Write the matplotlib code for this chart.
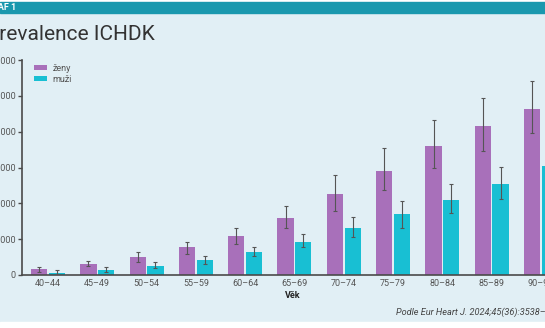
import numpy as np
import matplotlib
matplotlib.use("Agg")
import matplotlib.pyplot as plt
from matplotlib.patches import Rectangle

# data (per 100 000)
vek = ["40–44", "45–49", "50–54", "55–59", "60–64", "65–69",
       "70–74", "75–79", "80–84", "85–89", "90–94"]
zeny = [790, 1530, 2460, 3850, 5460, 8010, 11350, 14540, 18010, 20790, 23190]
zeny_lo = [420, 1250, 1850, 2920, 4260, 6490, 8890, 11810, 14960, 17360, 19760]
zeny_hi = [1110, 1900, 3240, 4580, 6490, 9680, 13890, 17740, 21630, 24680, 27040]
muzi = [320, 740, 1290, 2080, 3240, 4630, 6490, 8470, 10510, 12680, 15180]
muzi_lo = [100, 420, 970, 1530, 2600, 3930, 5280, 6530, 8710, 10650, 12800]
muzi_hi = [690, 1110, 1810, 2640, 3930, 5740, 8060, 10280, 12740, 15040, 17600]
yticks = [0, 5000, 10000, 15000, 20000, 25000, 30000]

plt.rcParams['font.family'] = ['Roboto', 'DejaVu Sans']

W, H = 545, 328
bg = "#e1eff5"
purple = "#a870ba"
cyan = "#18bfd3"
dark = "#4a4a4a"

fig = plt.figure(figsize=(W / 100, H / 100), dpi=100, facecolor=bg)

# top band and white bottom strip
fig.patches.append(Rectangle((0, 1 - 2 / H), 1, 2 / H, transform=fig.transFigure,
                             color="white", zorder=0))
fig.patches.append(Rectangle((0, 1 - 13 / H), 1, 11 / H, transform=fig.transFigure,
                             color="#1a98ae", zorder=0))
fig.patches.append(Rectangle((0, 0), 1, 6 / H, transform=fig.transFigure,
                             color="white", zorder=0))

fig.text(16 / W, 1 - 8 / H, "GRAF 1", ha="right", va="center", color="white",
         fontsize=6.5, fontweight="bold")
fig.text(155 / W, 1 - 40.5 / H, "Prevalence ICHDK", ha="right", va="baseline",
         color="#333333", fontsize=15)

# axes placed in pixels; the right side runs past the figure edge
a, b = -0.527, 10.6
px_per_unit = 49.3
ax_w = px_per_unit * (b - a)
ax = fig.add_axes([22 / W, (H - 275) / H, ax_w / W, 215 / H])
ax.set_facecolor("none")

x = np.arange(len(vek))
off, bw = 0.18, 0.33
ax.bar(x - off, zeny, bw, color=purple, label="ženy", zorder=2)
ax.bar(x + off, muzi, bw, color=cyan, label="muži", zorder=2)

z = np.array(zeny); m = np.array(muzi)
ax.errorbar(x - off, z, yerr=[z - np.array(zeny_lo), np.array(zeny_hi) - z],
            fmt="none", ecolor="#555555", elinewidth=0.8, capsize=1.2,
            capthick=0.8, zorder=3)
ax.errorbar(x + off, m, yerr=[m - np.array(muzi_lo), np.array(muzi_hi) - m],
            fmt="none", ecolor="#555555", elinewidth=0.8, capsize=1.2,
            capthick=0.8, zorder=3)

ax.set_xlim(a, b)
ax.set_ylim(0, 30000)
ax.set_xticks(x)
ax.set_xticklabels(vek)
ax.set_yticks(yticks)
ax.set_yticklabels(["0" if v == 0 else f"{v // 1000} 000" for v in yticks])
ax.tick_params(axis="x", length=0, pad=3, labelsize=6.5, labelcolor="#555555")
ax.tick_params(axis="y", length=3, width=1, color=dark, pad=1.5,
               labelsize=6.5, labelcolor="#555555")
for s in ["top", "right"]:
    ax.spines[s].set_visible(False)
for s in ["left", "bottom"]:
    ax.spines[s].set_color(dark)
    ax.spines[s].set_linewidth(1.2)

fig.text(293 / W, 1 - 296 / H, "Věk", ha="center", va="center",
         fontsize=6.5, fontweight="bold", color="#222222")

ax.legend(loc="upper left", bbox_to_anchor=(29 / W, 1 - 59 / H),
          bbox_transform=fig.transFigure, frameon=False, fontsize=6.5,
          handlelength=1.5, handleheight=0.55, handletextpad=0.6,
          labelspacing=0.25, borderpad=0, labelcolor="#555555")

fig.text(396 / W, 1 - 312 / H, "Podle Eur Heart J. 2024;45(36):3538–3700.",
         ha="left", va="center", fontsize=6.6, style="italic", color="#444444")

fig.savefig("out.png", dpi=100, facecolor=bg)
